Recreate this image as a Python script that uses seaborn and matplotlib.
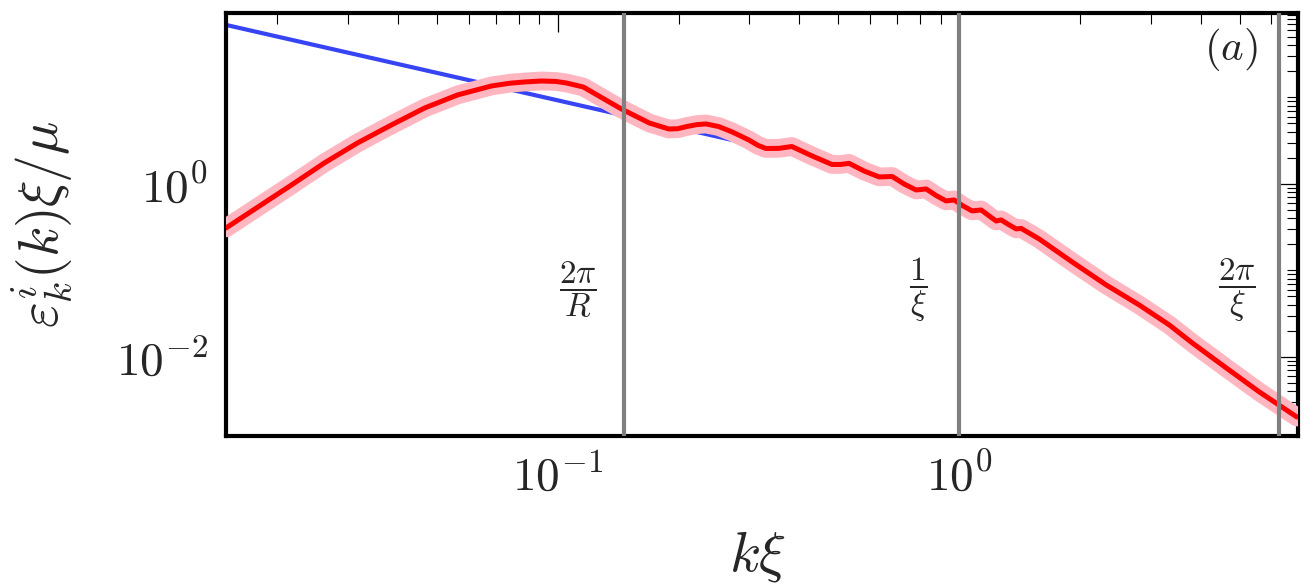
import numpy as np
import pandas as pd
import matplotlib
matplotlib.use("Agg")
import matplotlib.pyplot as plt
import seaborn as sns
from matplotlib.ticker import LogLocator, NullFormatter

# full incompressible spectrum (red)
k_full = [0.0149, 0.0179, 0.0217, 0.0262, 0.0317, 0.0385, 0.0466, 0.0563, 0.0685,
          0.0760, 0.0828, 0.0912, 0.0990, 0.105, 0.1158, 0.1265, 0.144, 0.169, 0.189,
          0.199, 0.210, 0.222, 0.234, 0.252, 0.272, 0.299, 0.315, 0.330, 0.356,
          0.383, 0.430, 0.482, 0.507, 0.532, 0.580, 0.632, 0.681, 0.729,
          0.781, 0.828, 0.876, 0.928, 0.972, 1.023, 1.077, 1.135, 1.188, 1.237,
          1.272, 1.333, 1.388, 1.428, 1.583, 1.913, 2.326, 2.811, 3.340, 3.811,
          4.633, 5.600, 6.95]
eps_full = [0.310, 0.542, 0.974, 1.75, 2.98, 4.81, 7.56, 10.7, 13.6,
            14.6, 15.1, 15.5, 15.3, 14.7, 13.2, 10.4, 7.36, 5.07, 4.32,
            4.35, 4.62, 4.85, 4.94, 4.60, 3.99, 3.23, 2.80, 2.57, 2.58,
            2.71, 2.11, 1.68, 1.68, 1.73, 1.41, 1.205, 1.22, 1.0,
            0.852, 0.875, 0.736, 0.636, 0.653, 0.557, 0.488, 0.500, 0.427, 0.373,
            0.384, 0.336, 0.302, 0.306, 0.2313, 0.1254, 0.0680, 0.0399, 0.02344, 0.01452,
            0.00746, 0.00394, 0.00202]

# single-vortex asymptote (blue)
k_asym = [0.0149, 0.265, 0.45]
eps_asym = [68.9, 3.31, 1.90]

# reference wavenumbers: 2pi/R, 1/xi, 2pi/xi
k_marks = [0.146, 1.0, 6.283]
mark_labels = [r'$\dfrac{2\pi}{R}$', r'$\dfrac{1}{\xi}$', r'$\dfrac{2\pi}{\xi}$']

x_ticks = [0.1, 1.0]
x_ticklabels = [r'$10^{-1}$', r'$10^{0}$']
y_ticks = [1e-2, 1e0, 1e2]
y_ticklabels = [r'$10^{-2}$', r'$10^{0}$', r'$10^{2}$']

sns.set_style('white')
plt.rcParams['mathtext.fontset'] = 'cm'
plt.rcParams['font.family'] = ['DejaVu Serif']

df_full = pd.DataFrame({'k': k_full, 'eps': eps_full})
df_asym = pd.DataFrame({'k': k_asym, 'eps': eps_asym})

fig, ax = plt.subplots(figsize=(13.14, 5.88), dpi=100)
fig.subplots_adjust(left=0.172, right=0.988, bottom=0.2585, top=0.978)

sns.lineplot(data=df_asym, x='k', y='eps', color='#3644f4', lw=3, ax=ax, zorder=2)
sns.lineplot(data=df_full, x='k', y='eps', color='#ffb6c1', lw=13.5, ax=ax, zorder=3)
sns.lineplot(data=df_full, x='k', y='eps', color='#ff0000', lw=3.6, ax=ax, zorder=4)

offsets = [-33, -29, -31]
for xm, lab, dx in zip(k_marks, mark_labels, offsets):
    ax.axvline(xm, color='gray', lw=3, zorder=5)
    ax.annotate(lab, xy=(xm, 0.345), xycoords=('data', 'axes fraction'),
                xytext=(dx, 0), textcoords='offset points',
                ha='center', va='center', fontsize=24)

ax.set_xscale('log')
ax.set_yscale('log')

ax.set_xticks(x_ticks, labels=x_ticklabels)
ax.set_yticks(y_ticks, labels=y_ticklabels)
ax.xaxis.set_minor_locator(LogLocator(base=10, subs=np.arange(2, 10), numticks=100))
ax.yaxis.set_minor_locator(LogLocator(base=10, subs=np.arange(1, 10), numticks=100))
ax.xaxis.set_minor_formatter(NullFormatter())
ax.yaxis.set_minor_formatter(NullFormatter())
ax.set_xlim(0.0149, 7.0)
ax.set_ylim(0.00122, 94.8)

ax.tick_params(which='both', direction='in', top=True, right=True, color='black')
ax.tick_params(which='major', length=13.5, width=0.9, labelsize=34, pad=13)
ax.tick_params(which='minor', length=8, width=0.8)
for s in ax.spines.values():
    s.set_linewidth(3)
    s.set_color('black')
ax.grid(False)

ax.set_xlabel(r'$k\xi$', fontsize=41)
ax.xaxis.set_label_coords(0.496, -0.2175)
ax.set_ylabel(r'$\varepsilon_k^i(k)\xi/\mu$', fontsize=40)
ax.yaxis.set_label_coords(-0.141, 0.5)

ax.text(0.937, 0.913, r'$(a)$', transform=ax.transAxes, fontsize=31,
        ha='center', va='center')

fig.savefig('out.png', dpi=100)
